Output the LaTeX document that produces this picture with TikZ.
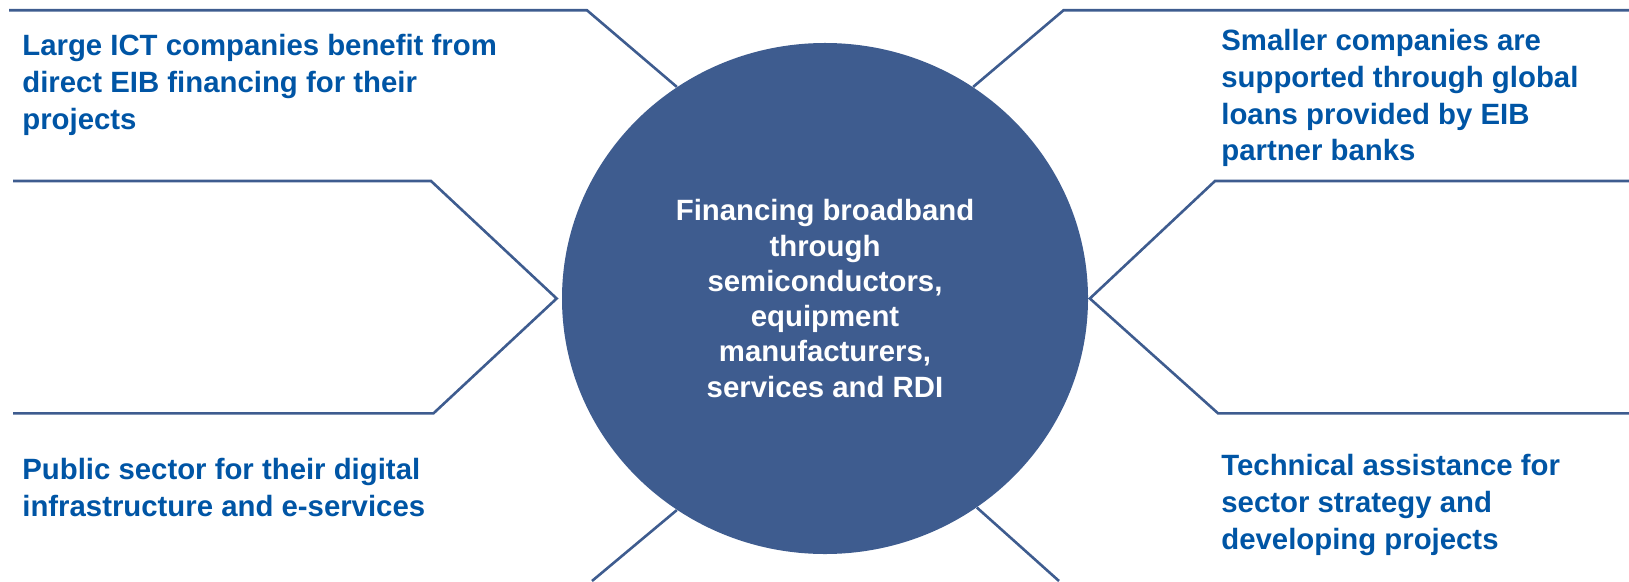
\documentclass[tikz,border=0pt]{standalone}
\usepackage{fontspec}
\setmainfont{Liberation Sans}
\usetikzlibrary{shapes.geometric}
\definecolor{eibnavy}{HTML}{3E5C8F}
\definecolor{eibblue}{HTML}{0055A5}
\tikzset{
  lead/.style={font=\fontsize{16.7}{20.9}\selectfont\bfseries, text=eibblue, align=left, anchor=north west, inner sep=0pt},
  hub/.style={ellipse, fill=eibnavy, text=white, font=\fontsize{16.7}{20.1}\selectfont\bfseries, align=center, inner sep=0pt, minimum width=105.2mm, minimum height=102.2mm},
  rail/.style={draw=eibnavy, line width=0.52mm, line join=miter},
}

\begin{document}
\begin{tikzpicture}[x=0.2mm,y=-0.2mm]
  \useasboundingbox (0,0) rectangle (1629,581);
  \node[hub] (hub) at (825,298.5) {Financing broadband\\through\\semiconductors,\\equipment\\manufacturers,\\services and RDI};
  % frame corners
  \coordinate (tl0) at (9,10.3);     \coordinate (tl1) at (587,10.3);
  \coordinate (tr0) at (1629,10.3);  \coordinate (tr1) at (1063.5,10.3);
  \coordinate (ml0) at (13,181);     \coordinate (ml1) at (431,181);
  \coordinate (ml2) at (433.5,413.3); \coordinate (ml3) at (13,413.3);
  \coordinate (mr0) at (1629,181);   \coordinate (mr1) at (1215,181);
  \coordinate (mr2) at (1218,413.3); \coordinate (mr3) at (1629,413.3);
  \coordinate (bl) at (592,581);     \coordinate (br) at (1059,581);
  \coordinate (lapex) at ([xshift=-1mm]hub.west);
  \coordinate (rapex) at ([xshift=0.3mm]hub.east);
  \draw[rail] (tl0) -- (tl1) -- (hub.125);
  \draw[rail] (tr0) -- (tr1) -- (hub.55);
  \draw[rail] (ml0) -- (ml1) -- (lapex) -- (ml2) -- (ml3);
  \draw[rail] (mr0) -- (mr1) -- (rapex) -- (mr2) -- (mr3);
  \draw[rail] (hub.235) -- (bl);
  \draw[rail] (hub.306) -- (br);
  % the four captions
  \node[lead] (ict) at (22,34) {Large ICT companies benefit from\\direct EIB financing for their\\projects};
  \node[lead] (sme) at (1221,29) {Smaller companies are\\supported through global\\loans provided by EIB\\partner banks};
  \node[lead] (pub) at (22,458) {Public sector for their digital\\infrastructure and e-services};
  \node[lead] (tec) at (1221,454) {Technical assistance for\\sector strategy and\\developing projects};
\end{tikzpicture}
\end{document}
